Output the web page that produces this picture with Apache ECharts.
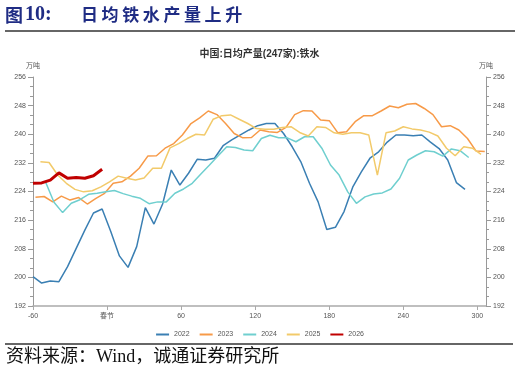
<!DOCTYPE html>
<html><head><meta charset="utf-8">
<script src="https://cdn.jsdelivr.net/npm/echarts@6/dist/echarts.min.js"></script>
<style>html,body{margin:0;padding:0;background:#fff}#c{width:519px;height:374px}</style>
</head><body><div id="c"></div>
<script>
// ---- data ----
const seriesNames = ['2022', '2023', '2024', '2025', '2026'];
const seriesColors = ['#3A7FB3', '#F79A48', '#6FCFCF', '#F2CA6A', '#C00000'];
// day offset (relative to Spring Festival) of each series' first weekly point
const startDays = [-60, -58, -50, -54, -60];
const weekStep = 7;
const xTickValues = [-60, 0, 60, 120, 180, 240, 300];
const xTickLabels = ['-60', '春节', '60', '120', '180', '240', '300'];
const yTicks = [192, 200, 208, 216, 224, 232, 240, 248, 256];

const v2022 = [200.2,198.4,199.0,198.8,203.0,208.1,213.2,218.0,219.1,212.8,
  206.0,202.8,208.6,219.5,214.9,220.5,230.0,225.8,229.1,233.0,
  232.8,233.3,236.8,238.4,239.8,241.2,242.4,243.0,243.0,240.2,
  236.5,232.3,226.3,221.1,213.4,214.0,218.4,225.2,229.5,233.3,
  235.1,237.8,239.8,239.8,239.6,239.8,237.8,236.0,232.8,226.5,224.6];
const v2023 = [222.4,222.6,221.1,222.7,221.6,222.3,220.5,222.1,223.5,226.3,
  226.7,228.3,230.5,233.9,234.0,236.1,237.4,239.8,243.0,244.6,
  246.5,245.5,243.0,240.2,239.0,239.1,241.2,240.7,240.5,241.9,
  245.5,246.6,246.5,244.0,243.8,240.4,240.7,243.5,245.2,245.2,
  246.5,247.9,247.4,248.4,248.6,247.2,245.5,242.1,242.4,241.2,
  238.8,235.3,235.2];
const v2024 = [226.8,221.0,218.1,220.7,221.7,223.2,223.5,223.9,224.3,223.4,
  222.7,222.1,220.6,221.1,221.1,223.5,224.7,226.3,228.9,231.4,
  234.0,236.5,236.3,235.6,235.4,238.8,239.7,239.0,239.0,237.9,
  239.3,239.3,236.1,231.4,228.6,223.9,220.7,222.5,223.3,223.6,
  224.7,227.7,232.8,234.2,235.4,235.1,233.9,235.9,235.4,233.5];
const v2025 = [232.3,232.1,228.6,226.3,224.6,223.9,224.2,225.3,226.7,228.3,
  227.7,227.2,227.8,230.5,230.5,236.2,237.4,238.8,240.0,239.8,
  244.2,245.2,245.4,244.2,243.0,241.6,241.4,241.4,241.9,242.1,
  240.5,239.5,242.1,241.9,240.4,240.0,240.4,240.4,239.8,228.6,
  240.4,240.9,242.1,241.5,241.2,240.6,239.5,236.1,234.0,236.5,
  236.1,234.4];
const v2026 = [226.3,226.4,227.2,229.2,227.7,227.9,227.7,228.4,230.2];
const allValues = [v2022, v2023, v2024, v2025, v2026];

// ---- chart ----
const chart = echarts.init(document.getElementById('c'), null, {renderer: 'canvas'});
const latin = 'Liberation Sans, Arial, Noto Sans CJK SC, sans-serif';
const navy = '#1F2C84';

function toPairs(vals, start) {
  return vals.map((v, i) => [start + i * weekStep, v]);
}

const series = seriesNames.map((name, k) => ({
  name: name,
  type: 'line',
  data: toPairs(allValues[k], startDays[k]),
  showSymbol: false,
  symbol: 'none',
  smooth: false,
  z: k === 4 ? 5 : 2,
  lineStyle: {width: k === 4 ? 3 : 1.5, color: seriesColors[k]},
  itemStyle: {color: seriesColors[k]}
}));

function yAxisDef(pos) {
  return {
    type: 'value', position: pos, min: yTicks[0], max: yTicks[yTicks.length - 1], interval: 8,
    name: '万吨', nameLocation: 'end', nameGap: 7,
    nameTextStyle: {fontSize: 7, color: '#555', fontFamily: latin, align: 'center'},
    axisLine: {show: true, onZero: false, lineStyle: {color: '#999', width: 1}},
    axisTick: {show: true, length: 5, lineStyle: {color: '#999'}},
    minorTick: {show: true, splitNumber: 3, length: 3, lineStyle: {color: '#999'}},
    axisLabel: {fontSize: 7, color: '#555', margin: 7, fontFamily: latin},
    splitLine: {show: false}, minorSplitLine: {show: false}
  };
}

const headerChars = '日均铁水产量上升'.split('');
const graphics = [
  {type: 'text', left: 5, top: 6, style: {text: '图', fill: navy, font: 'bold 18px "Noto Sans CJK SC"'}},
  {type: 'text', left: 25, top: 5, style: {text: '10:', fill: navy, font: 'bold 20px "Liberation Serif"'}},
  {type: 'line', shape: {x1: 5, y1: 31, x2: 515, y2: 31}, style: {stroke: '#333', lineWidth: 1.5}},
  {type: 'line', shape: {x1: 5, y1: 344, x2: 513, y2: 344}, style: {stroke: '#333', lineWidth: 1.5}},
  {type: 'text', left: 6, top: 348, style: {text: '资料来源：Wind，诚通证券研究所', fill: '#111',
    font: '18px "Liberation Serif", "Noto Sans CJK SC"'}}
];
headerChars.forEach((ch, i) => {
  graphics.push({type: 'text', left: 81 + i * 20.6, top: 6,
    style: {text: ch, fill: navy, font: 'bold 17px "Noto Sans CJK SC"'}});
});

chart.setOption({
  animation: false,
  backgroundColor: '#fff',
  color: seriesColors,
  title: {
    text: '中国:日均产量(247家):铁水', left: 'center', top: 44,
    textStyle: {fontSize: 10, fontWeight: 'bold', color: '#333', fontFamily: latin}
  },
  legend: {
    data: seriesNames, left: 'center', top: 326,
    itemWidth: 13, itemHeight: 8, itemGap: 9,
    itemStyle: {color: 'rgba(0,0,0,0)', borderColor: 'rgba(0,0,0,0)', borderWidth: 0, opacity: 0},
    textStyle: {fontSize: 7, color: '#555', fontFamily: latin}
  },
  grid: {left: 33, right: 33, top: 77, bottom: 68, containLabel: false, outerBoundsMode: 'none'},
  xAxis: {
    type: 'value', min: -60, max: 307, interval: 60,
    axisLine: {show: true, onZero: false, lineStyle: {color: '#aaa', width: 1.5}},
    axisTick: {show: true, length: 4, lineStyle: {color: '#aaa'}},
    axisLabel: {
      fontSize: 7, color: '#555', margin: 7, fontFamily: latin, showMaxLabel: false,
      formatter: function (v) {
        const idx = xTickValues.indexOf(v);
        return idx >= 0 ? xTickLabels[idx] : '';
      }
    },
    splitLine: {show: false}
  },
  yAxis: [yAxisDef('left'), yAxisDef('right')],
  series: series,
  graphic: graphics
});
</script>
</body></html>
